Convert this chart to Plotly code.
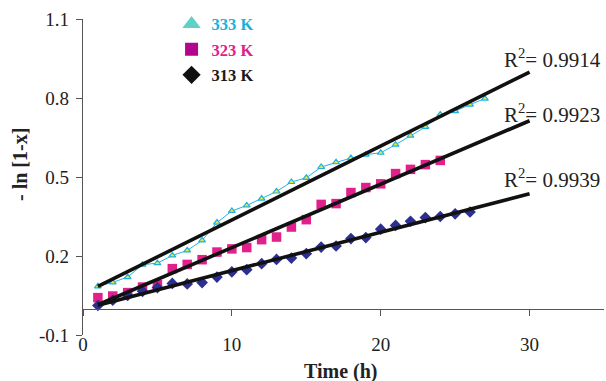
import numpy as np
import plotly.graph_objects as go

# Reaction time (h) for each temperature series
t_333 = list(range(1, 28))
t_323 = list(range(1, 25))
t_313 = list(range(1, 27))

# -ln(1-x) values
v_333 = [0.085, 0.100, 0.120, 0.167, 0.173, 0.202, 0.221, 0.259, 0.327, 0.371,
         0.392, 0.418, 0.445, 0.481, 0.497, 0.538, 0.556, 0.572, 0.585, 0.592,
         0.623, 0.657, 0.690, 0.737, 0.750, 0.775, 0.798]
v_323 = [0.042, 0.048, 0.061, 0.082, 0.091, 0.152, 0.168, 0.186, 0.215, 0.227,
         0.232, 0.262, 0.272, 0.310, 0.338, 0.396, 0.399, 0.441, 0.460, 0.474,
         0.513, 0.529, 0.547, 0.563]
v_313 = [0.012, 0.032, 0.050, 0.066, 0.080, 0.096, 0.094, 0.099, 0.120, 0.140,
         0.148, 0.171, 0.187, 0.192, 0.209, 0.234, 0.238, 0.266, 0.270, 0.302,
         0.316, 0.332, 0.346, 0.350, 0.360, 0.367]

series_names = ["333 K", "323 K", "313 K"]
r2_labels = ["0.9914", "0.9923", "0.9939"]
trend_end = 30  # trendlines are extended forward to this time

x_ticks = [0, 10, 20, 30]
y_ticks = [-0.1, 0.2, 0.5, 0.8, 1.1]
y_tick_text = ["-0.1", "0.2", "0.5", "0.8", "1.1"]

SERIF = "Liberation Serif"
AXIS_COLOR = "#555555"

fig = go.Figure()

# measured points
fig.add_trace(go.Scatter(
    x=t_333, y=v_333, mode="lines+markers", showlegend=False,
    line=dict(color="#25b4e2", width=1),
    marker=dict(symbol="triangle-up", size=6, color="#e4e83c",
                line=dict(color="#1fb0e0", width=1.2)),
))
fig.add_trace(go.Scatter(
    x=t_323, y=v_323, mode="markers", showlegend=False,
    marker=dict(symbol="square", size=9.5, color="#e2208c"),
))
fig.add_trace(go.Scatter(
    x=t_313, y=v_313, mode="markers", showlegend=False,
    marker=dict(symbol="diamond", size=9, color="#2d2f90"),
))

# linear trendlines, drawn on the overlaid axis so they sit above the points
for t, v in [(t_333, v_333), (t_323, v_323), (t_313, v_313)]:
    slope, icpt = np.polyfit(t, v, 1)
    xs = np.array([min(t), trend_end])
    fig.add_trace(go.Scatter(
        x=xs, y=slope * xs + icpt, mode="lines", showlegend=False,
        line=dict(color="#111111", width=3.6), xaxis="x2", yaxis="y",
    ))

# legend entries
legend_styles = [
    ("triangle-up", 16, "#5fd2c6", "#1ab0dc"),
    ("square", 13, "#b3068e", "#e0208a"),
    ("diamond", 14, "#111111", "#1a1a1a"),
]
for name, (sym, size, mcol, tcol) in zip(series_names, legend_styles):
    fig.add_trace(go.Scatter(
        x=[None], y=[None], mode="markers", legendgroup=name,
        name=f"<b><span style='color:{tcol}'>{name}</span></b>",
        marker=dict(symbol=sym, size=size, color=mcol),
    ))

# R² labels next to the trendline ends
r2_y = [0.951, 0.742, 0.495]
annotations = [
    dict(x=28.15, y=yy, xref="x", yref="y", xanchor="left", yanchor="middle",
         text=f"R<sup>2</sup>= {lab}", showarrow=False,
         font=dict(family=SERIF, size=21, color="#222222"))
    for lab, yy in zip(r2_labels, r2_y)
]
annotations.append(dict(
    x=-0.121, y=0.541, xref="paper", yref="paper", textangle=-90,
    text="<b>- ln [1-x]</b>", showarrow=False, xanchor="center", yanchor="middle",
    font=dict(family=SERIF, size=20, color="#222222")))
annotations.append(dict(
    x=0.495, y=-0.115, xref="paper", yref="paper",
    text="<b>Time (h)</b>", showarrow=False, xanchor="center", yanchor="middle",
    font=dict(family=SERIF, size=20, color="#222222")))

fig.update_layout(
    width=606, height=381,
    margin=dict(l=83, r=2, t=19, b=46),
    paper_bgcolor="white", plot_bgcolor="white",
    font=dict(family=SERIF, size=19, color="#222222"),
    showlegend=True,
    legend=dict(x=0.17, y=1.039, xanchor="left", yanchor="top",
                bgcolor="rgba(0,0,0,0)", tracegroupgap=1,
                font=dict(family=SERIF, size=16.5)),
    xaxis=dict(range=[0, 35], tickvals=x_ticks, showline=False, ticks="",
               showgrid=False, zeroline=False, anchor="free", position=0.013,
               ticklabelstandoff=0),
    xaxis2=dict(range=[0, 35], overlaying="x", anchor="free", position=1 / 12,
                side="bottom", tickvals=x_ticks, showticklabels=False,
                showline=True, linecolor=AXIS_COLOR, linewidth=1.3,
                ticks="outside", ticklen=6, tickcolor=AXIS_COLOR,
                showgrid=False, zeroline=False),
    yaxis=dict(range=[-0.1, 1.1], tickvals=y_ticks, ticktext=y_tick_text,
               showline=True, linecolor=AXIS_COLOR, linewidth=1.3,
               ticks="outside", ticklen=6, tickcolor=AXIS_COLOR,
               showgrid=False, zeroline=False, ticklabelstandoff=3),
    annotations=annotations,
)

fig.write_html("out.html")
